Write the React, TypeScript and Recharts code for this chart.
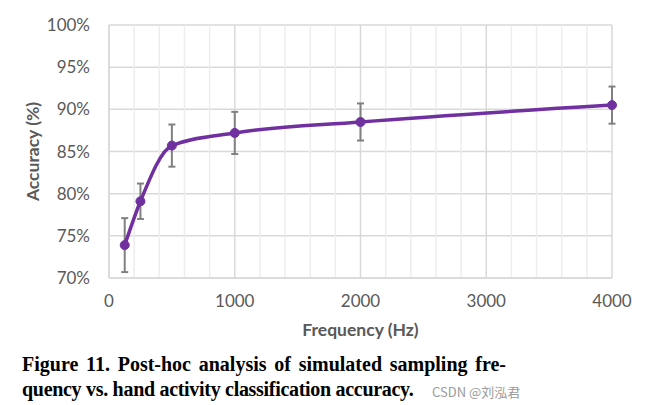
import {
  LineChart,
  Line,
  XAxis,
  YAxis,
  CartesianGrid,
  ErrorBar,
  ReferenceLine,
} from "recharts";

// sampling frequency (Hz) and mean accuracy (%) with +/- error
const frequencies = [125, 250, 500, 1000, 2000, 4000];
const accuracy = [73.9, 79.1, 85.7, 87.2, 88.5, 90.5];
const errors = [3.2, 2.1, 2.5, 2.5, 2.2, 2.2];

const xTicks = [0, 1000, 2000, 3000, 4000];
const xMinorTicks = [200, 400, 600, 800, 1200, 1400, 1600, 1800, 2200, 2400, 2600, 2800, 3200, 3400, 3600, 3800];
const yTicks = [70, 75, 80, 85, 90, 95, 100];

const data = frequencies.map((f, i) => ({ freq: f, acc: accuracy[i], err: errors[i] }));

const tickStyle = { fill: "#595959", fontSize: 17, fontFamily: "Lato, sans-serif" };
const titleStyle = { fill: "#595959", fontSize: 17.5, fontWeight: 700, fontFamily: "Lato, sans-serif" };

export default function App() {
  return (
    <div style={{ position: "absolute", left: 0, top: 0, width: 651, height: 405, background: "#fff" }}>
      <LineChart
        width={651}
        height={345}
        data={data}
        margin={{ top: 25, right: 39, left: 0, bottom: 7 }}
      >
        <CartesianGrid stroke="#d9d9d9" strokeWidth={1.5} />
        {xMinorTicks.map((t) => (
          <ReferenceLine key={t} x={t} stroke="#ededed" strokeWidth={1.5} />
        ))}
        <XAxis
          dataKey="freq"
          type="number"
          domain={[0, 4000]}
          ticks={xTicks}
          tick={tickStyle}
          tickLine={false}
          tickMargin={11}
          axisLine={{ stroke: "#d9d9d9", strokeWidth: 1.5 }}
          height={60}
          label={{ value: "Frequency (Hz)", position: "insideBottom", offset: 2, style: titleStyle }}
        />
        <YAxis
          type="number"
          domain={[70, 100]}
          ticks={yTicks}
          tickFormatter={(v) => `${v}%`}
          tick={tickStyle}
          tickLine={false}
          tickMargin={13}
          axisLine={{ stroke: "#d9d9d9", strokeWidth: 1.5 }}
          width={109}
          label={{
            value: "Accuracy (%)",
            angle: -90,
            position: "center",
            dx: -22,
            style: { ...titleStyle, textAnchor: "middle" },
          }}
        />
        <Line
          type="monotone"
          dataKey="acc"
          stroke="#7030a0"
          strokeWidth={3.5}
          dot={{ r: 4.5, fill: "#7030a0", stroke: "#7030a0", strokeWidth: 1 }}
          activeDot={false}
          isAnimationActive={false}
        >
          <ErrorBar dataKey="err" direction="y" width={3.5} stroke="#808080" strokeWidth={2} />
        </Line>
      </LineChart>
      <div
        style={{
          position: "absolute",
          left: 22,
          top: 352,
          width: 484,
          fontFamily: "'Liberation Serif', serif",
          fontWeight: 700,
          fontSize: 20,
          lineHeight: "25px",
          color: "#000",
        }}
      >
        <div style={{ textAlign: "justify", textAlignLast: "justify" }}>
          Figure 11. Post-hoc analysis of simulated sampling fre-
        </div>
        <span style={{ letterSpacing: -0.3 }}>quency vs. hand activity classification accuracy.</span>
      </div>
      <div
        style={{
          position: "absolute",
          left: 432,
          top: 382,
          fontFamily: "'Noto Sans CJK SC', 'Noto Sans', sans-serif",
          fontSize: 13,
          color: "#9a9a9a",
        }}
      >
        CSDN @刘泓君
      </div>
    </div>
  );
}
